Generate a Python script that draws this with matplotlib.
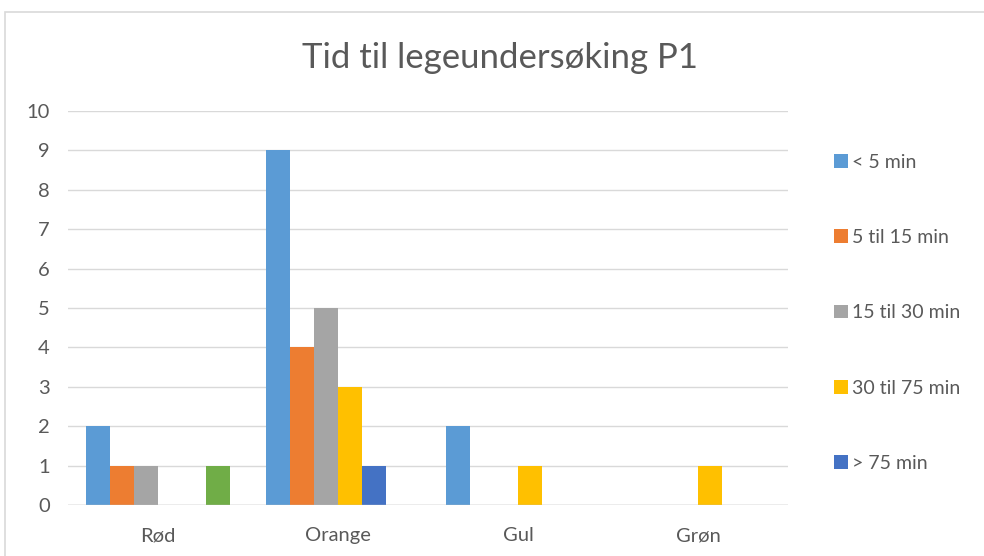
import numpy as np
import matplotlib.pyplot as plt
from matplotlib.patches import Rectangle

# Data
categories = ['Rød', 'Orange', 'Gul', 'Grøn']
series_names = ['< 5 min', '5 til 15 min', '15 til 30 min', '30 til 75 min', '> 75 min', '']
under_5 = [2, 9, 2, 0]
min_5_15 = [1, 4, 0, 0]
min_15_30 = [1, 5, 0, 0]
min_30_75 = [0, 3, 1, 1]
over_75 = [0, 1, 0, 0]
unnamed = [1, 0, 0, 0]   # green bar, not in legend
series_values = [under_5, min_5_15, min_15_30, min_30_75, over_75, unnamed]
colors = ['#5B9BD5', '#ED7D31', '#A5A5A5', '#FFC000', '#4472C4', '#70AD47']

plt.rcParams['font.family'] = ['Lato', 'DejaVu Sans']
text_color = '#595959'

fig = plt.figure(figsize=(9.84, 5.56), dpi=100)
ax = fig.add_axes([0.069, 0.0917, 0.732, 0.7087])

# Chart border
fig.patches.append(Rectangle((0.005, -0.1), 1.1, 1.078, transform=fig.transFigure,
                             fill=False, edgecolor='#D9D9D9', linewidth=1.2))

x = np.arange(len(categories))
bw = 0.134
n = len(series_values)
handles = []
for i, (vals, col) in enumerate(zip(series_values, colors)):
    offs = (i - (n - 1) / 2) * bw
    b = ax.bar(x + offs, vals, width=bw, color=col, zorder=3)
    if series_names[i]:
        handles.append((b, series_names[i]))

ax.set_xlim(-0.5, len(categories) - 0.5)
ax.set_ylim(0, 10)
ax.set_yticks(range(0, 11))
ax.set_xticks(x)
ax.set_xticklabels(categories)
ax.grid(axis='y', color='#D9D9D9', linewidth=1, zorder=0)
ax.axhline(0, color='#BFBFBF', linewidth=1, zorder=4)
for s in ax.spines.values():
    s.set_visible(False)
ax.tick_params(length=0, labelsize=14.5, colors=text_color)
ax.tick_params(axis='y', pad=13)
ax.tick_params(axis='x', pad=16)

fig.text(0.508, 0.895, 'Tid til legeundersøking P1', ha='center', va='center',
         fontsize=25, color=text_color)

leg = fig.legend([h for h, _ in handles], [l for _, l in handles],
                 loc='upper left', bbox_to_anchor=(0.83, 0.755),
                 frameon=False, fontsize=14, labelspacing=3.0,
                 handlelength=0.7, handleheight=0.7, handletextpad=0.2)
for t in leg.get_texts():
    t.set_color(text_color)

plt.savefig('out.png', dpi=100)
